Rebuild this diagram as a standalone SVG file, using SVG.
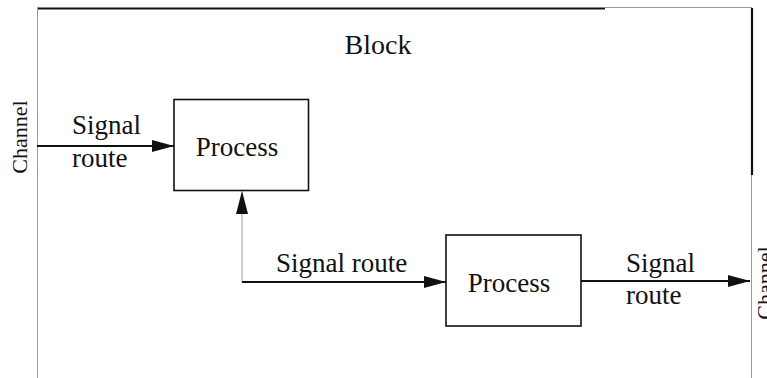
<svg xmlns="http://www.w3.org/2000/svg" width="767" height="378" viewBox="0 0 767 378">
  <style>
    .lbl { font-family: "Liberation Serif", "Times New Roman", serif; font-size: 27px; fill: #111; }
    .title { font-family: "Liberation Serif", "Times New Roman", serif; font-size: 28px; fill: #111; }
    .chan { font-family: "Liberation Serif", "Times New Roman", serif; font-size: 22px; fill: #111; }
    .box { fill: #fff; stroke: #111; stroke-width: 1.6; }
    .route { stroke: #111; stroke-width: 1.8; fill: none; }
    .thin { stroke: #999; stroke-width: 1; fill: none; }
    .edge { stroke: #111; stroke-width: 2.2; fill: none; }
  </style>
  <defs>
    <marker id="arrow" viewBox="0 0 22 12" refX="22" refY="6" markerWidth="22" markerHeight="12" markerUnits="userSpaceOnUse" orient="auto">
      <path d="M0,0 L22,6 L0,12 Z" fill="#111"/>
    </marker>
  </defs>

  <rect width="767" height="378" fill="#fff"/>

  <!-- block frame -->
  <g id="block">
    <line class="edge" x1="37" y1="8.5" x2="605" y2="8.5"/>
    <line class="thin" x1="605" y1="7.5" x2="752" y2="7.5" stroke="#777"/>
    <line class="edge" x1="752" y1="8" x2="752" y2="175"/>
    <line class="thin" x1="751.5" y1="175" x2="751.5" y2="378"/>
    <line class="thin" x1="37.5" y1="8" x2="37.5" y2="378"/>
    <text class="title" x="378" y="54" text-anchor="middle">Block</text>
  </g>

  <!-- channels on the block boundary -->
  <g id="channel-left">
    <text class="chan" transform="translate(27,137) rotate(-90)" text-anchor="middle">Channel</text>
  </g>
  <g id="channel-right">
    <text class="chan" transform="translate(772,283) rotate(-90)" text-anchor="middle">Channel</text>
  </g>

  <!-- processes -->
  <g id="process-1">
    <rect class="box" x="174" y="99.5" width="134.5" height="91"/>
    <text class="lbl" x="237" y="156" text-anchor="middle">Process</text>
  </g>
  <g id="process-2">
    <rect class="box" x="446" y="235" width="135" height="91"/>
    <text class="lbl" x="509" y="292" text-anchor="middle">Process</text>
  </g>

  <!-- signal routes -->
  <g id="connectors">
    <line class="route" x1="37" y1="146" x2="174" y2="146" marker-end="url(#arrow)"/>
    <line class="thin" x1="242" y1="282" x2="242" y2="191"/>
    <path d="M236,214 L242,191 L248,214 Z" fill="#111"/>
    <line class="route" x1="242" y1="282" x2="446" y2="282" marker-end="url(#arrow)"/>
    <line class="route" x1="581" y1="281" x2="750" y2="281" marker-end="url(#arrow)"/>
  </g>

  <!-- route labels -->
  <g id="labels">
    <text class="lbl" x="72" y="134">Signal</text>
    <text class="lbl" x="72" y="167">route</text>
    <text class="lbl" x="276" y="272">Signal route</text>
    <text class="lbl" x="626" y="272">Signal</text>
    <text class="lbl" x="626" y="304">route</text>
  </g>
</svg>
